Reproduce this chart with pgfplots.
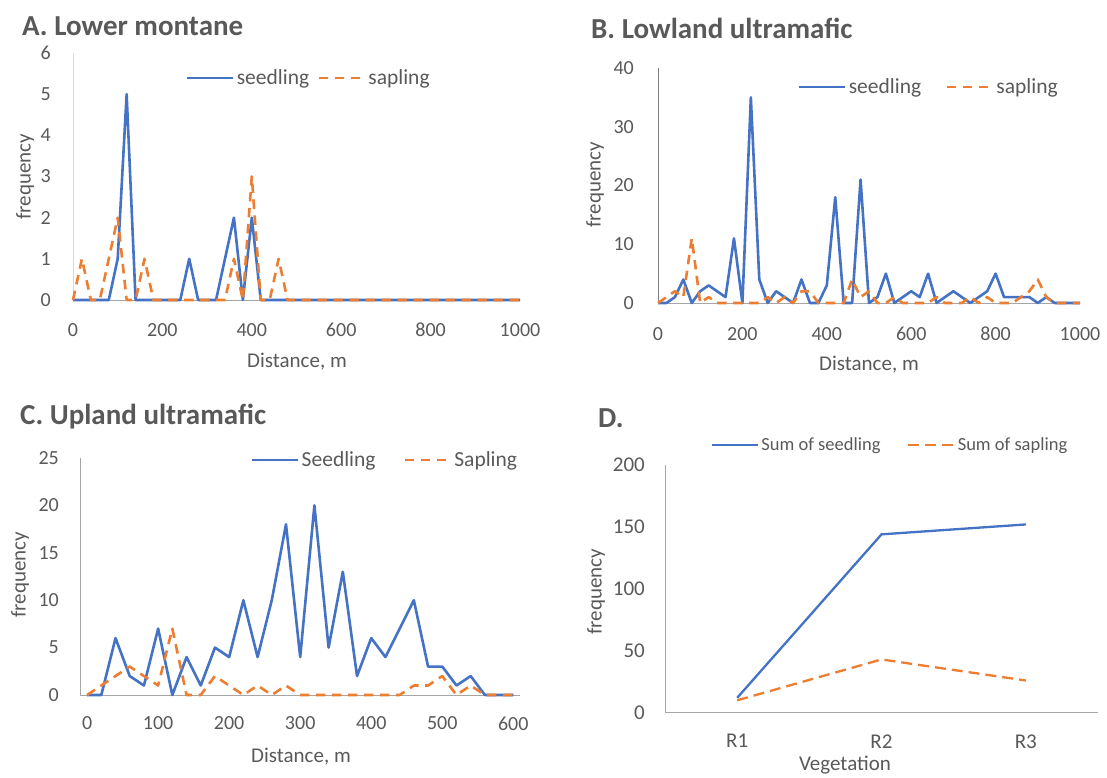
\documentclass[border=0pt]{standalone}
\usepackage{fontspec}
\setmainfont{Carlito}
\usepackage{pgfplots}
\pgfplotsset{compat=1.18}
\usepackage{pgfplotstable}
\definecolor{sblue}{HTML}{4472C4}
\definecolor{sorange}{HTML}{ED7D31}
\definecolor{txt}{HTML}{595959}
\definecolor{axlight}{HTML}{D9D9D9}
\definecolor{axmid}{HTML}{A6A6A6}
\definecolor{axdark}{HTML}{808080}
\newcommand\fTick{\fontsize{20}{24}\selectfont}
\newcommand\fLeg{\fontsize{21.5}{25}\selectfont}
\newcommand\fLab{\fontsize{21}{25}\selectfont}
\newcommand\fTitle{\fontsize{29}{34}\selectfont\bfseries}
\newcommand\fTickD{\fontsize{21}{25}\selectfont}
\newcommand\fLegD{\fontsize{18.5}{22}\selectfont}

\pgfplotstableread{
x seed sap
0 0 0
20 0 1
40 0 0
60 0 0
80 0 1
100 1 2
120 5 0
140 0 0
160 0 1
180 0 0
200 0 0
220 0 0
240 0 0
260 1 0
280 0 0
300 0 0
320 0 0
340 1 0
360 2 1
380 0 0
400 2 3
420 0 0
440 0 0
460 0 1
480 0 0
500 0 0
520 0 0
540 0 0
560 0 0
580 0 0
600 0 0
620 0 0
640 0 0
660 0 0
680 0 0
700 0 0
720 0 0
740 0 0
760 0 0
780 0 0
800 0 0
820 0 0
840 0 0
860 0 0
880 0 0
900 0 0
920 0 0
940 0 0
960 0 0
980 0 0
1000 0 0
}\tabA

\pgfplotstableread{
x seed sap
0 0 0
20 0 1
40 1 2
60 4 1
80 0 11
100 2 0
120 3 1
140 2 0
160 1 0
180 11 0
200 0 0
220 35 0
240 4 0
260 0 1
280 2 0
300 1 1
320 0 0
340 4 2
360 0 2
380 0 0
400 3 0
420 18 0
440 0 0
460 0 4
480 21 1
500 0 2
520 1 0
540 5 0
560 0 1
580 1 0
600 2 0
620 1 0
640 5 0
660 0 1
680 1 0
700 2 0
720 1 0
740 0 1
760 1 0
780 2 1
800 5 0
820 1 0
840 1 0
860 1 1
880 1 2
900 0 4
920 1 1
940 0 0
960 0 0
980 0 0
1000 0 0
}\tabB

\pgfplotstableread{
x seed sap
0 0 0
20 0 1
40 6 2
60 2 3
80 1 2
100 7 1
120 0 7
140 4 0
160 1 0
180 5 2
200 4 1
220 10 0
240 4 1
260 10 0
280 18 1
300 4 0
320 20 0
340 5 0
360 13 0
380 2 0
400 6 0
420 4 0
440 7 0
460 10 1
480 3 1
500 3 2
520 1 0
540 2 1
560 0 0
580 0 0
600 0 0
}\tabC

\pgfplotstableread{
x seed sap
1 12 10
2 144 43
3 152 26
}\tabD

\pgfplotsset{
  panel/.style={
    scale only axis,
    axis x line*=bottom, axis y line*=left,
    major tick length=0pt,
    tick style={draw=none},
    ticklabel style={font=\fTick, text=txt, inner sep=0pt},
    /pgf/number format/assume math mode=true,
    /pgf/number format/1000 sep={},
    clip=false,
    legend cell align=left,
    legend style={draw=none, fill=none, legend columns=2, font=\fLeg, text=txt,
      inner sep=0pt, nodes={inner sep=2.5pt}},
    legend image code/.code={\draw[##1] (0pt,0pt) -- (46pt,0pt);},
  },
  seed/.style={sblue, line width=2.6pt, line join=round},
  sap/.style={sorange, line width=2.6pt, line join=round, dash pattern=on 9.5pt off 6.5pt},
}

\begin{document}
\begin{tikzpicture}[x=1pt,y=1pt]
\useasboundingbox (0,0) rectangle (1107,778);

% ---------- A ----------
\begin{axis}[panel, at={(73pt,478pt)}, anchor=south west, width=447pt, height=247pt,
  xmin=0, xmax=1000, ymin=0, ymax=6,
  xtick={0,200,...,1000}, ytick={0,1,...,6},
  x axis line style={-, draw=axmid}, y axis line style={-, draw=axlight},
  yticklabel style={anchor=east, xshift=-22pt},
  xticklabel style={anchor=north, yshift=-23pt},
  legend style={at={(axis description cs:0.2517,0.8988)}, anchor=west}]
\addplot[seed] table[x=x,y=seed]{\tabA};
\addlegendentry{\makebox[78pt][l]{seedling}}
\addplot[sap] table[x=x,y=sap]{\tabA};
\addlegendentry{sapling}
\end{axis}

% ---------- B ----------
\begin{axis}[panel, at={(658pt,475pt)}, anchor=south west, width=422pt, height=235pt,
  xmin=0, xmax=1000, ymin=0, ymax=40,
  xtick={0,200,...,1000}, ytick={0,10,...,40},
  x axis line style={-, draw=axmid}, y axis line style={-, draw=axdark},
  yticklabel style={anchor=east, xshift=-24pt},
  xticklabel style={anchor=north, yshift=-24pt},
  legend style={at={(axis description cs:0.3306,0.919)}, anchor=west}]
\addplot[seed] table[x=x,y=seed]{\tabB};
\addlegendentry{\makebox[94pt][l]{seedling}}
\addplot[sap] table[x=x,y=sap]{\tabB};
\addlegendentry{sapling}
\end{axis}

% ---------- C ----------
\begin{axis}[panel, at={(80pt,83pt)}, anchor=south west, width=440.4pt, height=237pt,
  xmin=-10, xmax=610, ymin=0, ymax=25,
  xtick={0,100,...,600}, ytick={0,5,...,25},
  x axis line style={-, draw=axmid}, y axis line style={-, draw=axmid},
  yticklabel style={anchor=east, xshift=-21pt},
  xticklabel style={anchor=north, yshift=-21.5pt},
  legend style={at={(axis description cs:0.387,0.9916)}, anchor=west}]
\addplot[seed] table[x=x,y=seed]{\tabC};
\addlegendentry{\makebox[99pt][l]{Seedling}}
\addplot[sap] table[x=x,y=sap]{\tabC};
\addlegendentry{Sapling}
\end{axis}

% ---------- D ----------
\begin{axis}[panel, at={(665pt,65.3pt)}, anchor=south west, width=433pt, height=247.7pt,
  xmin=0.5, xmax=3.5, ymin=0, ymax=200,
  xtick={1,2,3}, xticklabels={R1,R2,R3}, ytick={0,50,...,200},
  ticklabel style={font=\fTickD},
  x axis line style={-, draw=axmid}, y axis line style={-, draw=axmid},
  yticklabel style={anchor=east, xshift=-20pt},
  xticklabel style={anchor=north, yshift=-21.5pt},
  legend style={font=\fLegD, at={(axis description cs:0.105,1.081)}, anchor=west}]
\addplot[sblue, line width=2.3pt] table[x=x,y=seed]{\tabD};
\addlegendentry{\makebox[143pt][l]{Sum of seedling}}
\addplot[sorange, line width=2.3pt, dash pattern=on 11pt off 6pt] table[x=x,y=sap]{\tabD};
\addlegendentry{Sum of sapling}
\end{axis}

% ---------- titles and axis titles ----------
\node[font=\fTitle, text=txt, anchor=base west, inner sep=0pt] at (22,742) {A. Lower montane};
\node[font=\fTitle, text=txt, anchor=base west, inner sep=0pt] at (591,739) {B. Lowland ultramafic};
\node[font=\fTitle, text=txt, anchor=base west, inner sep=0pt] at (20,353) {C. Upland ultramafic};
\node[font=\fTitle, text=txt, anchor=base west, inner sep=0pt] at (598,350) {D.};

\node[font=\fLab, text=txt, rotate=90] at (25,601) {frequency};
\node[font=\fLab, text=txt, rotate=90] at (595,593) {frequency};
\node[font=\fLab, text=txt, rotate=90] at (20,203) {frequency};
\node[font=\fTickD, text=txt, rotate=90] at (596,186) {frequency};

\node[font=\fLab, text=txt] at (297,416) {Distance, m};
\node[font=\fLab, text=txt] at (869,413) {Distance, m};
\node[font=\fLab, text=txt] at (301,21) {Distance, m};
\node[font=\fTickD, text=txt] at (845,13) {Vegetation};
\end{tikzpicture}
\end{document}
